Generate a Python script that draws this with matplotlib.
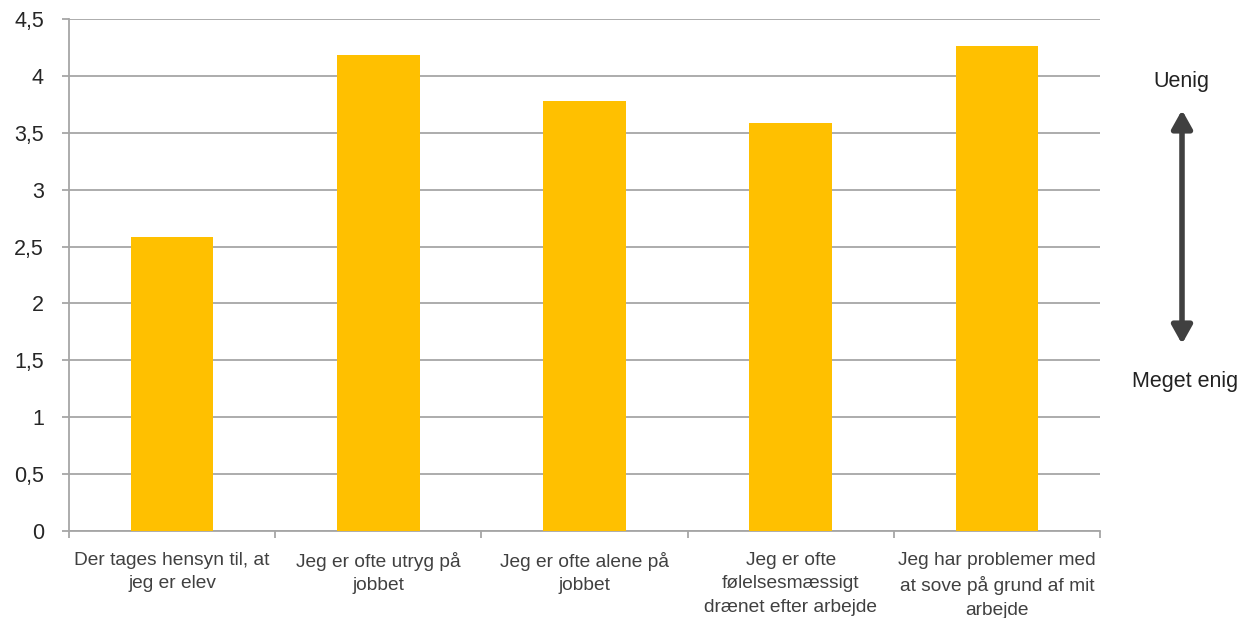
import matplotlib
matplotlib.use("Agg")
import matplotlib.pyplot as plt
from matplotlib.ticker import FixedLocator
from matplotlib.patches import FancyArrowPatch

categories = [
    "Der tages hensyn til, at\njeg er elev",
    "Jeg er ofte utryg på\njobbet",
    "Jeg er ofte alene på\njobbet",
    "Jeg er ofte\nfølelsesmæssigt\ndrænet efter arbejde",
    "Jeg har problemer med\nat sove på grund af mit\narbejde",
]
values = [2.58, 4.18, 3.78, 3.59, 4.26]
yticks = [0, 0.5, 1, 1.5, 2, 2.5, 3, 3.5, 4, 4.5]
ytick_labels = ["0", "0,5", "1", "1,5", "2", "2,5", "3", "3,5", "4", "4,5"]

plt.rcParams['font.family'] = ['Liberation Sans', 'DejaVu Sans']

W, H = 1238, 618
fig = plt.figure(figsize=(W / 100, H / 100), dpi=100)
ax = fig.add_axes([69 / W, 87 / H, (1100 - 69) / W, (531 - 19) / H])

x = list(range(len(categories)))
ax.bar(x, values, width=0.40, color="#FFC000", zorder=3)

grid_col = "#A6A6A6"
ax.set_xlim(-0.5, len(categories) - 0.5)
ax.set_ylim(0, 4.5)
ax.set_yticks(yticks)
ax.set_yticklabels(ytick_labels, fontsize=15.5, color="#262626")
ax.yaxis.grid(True, color=grid_col, linewidth=1.3, zorder=0)
ax.tick_params(axis="y", length=5, color=grid_col, width=1.3, pad=13)

ax.set_xticks(x)
ax.set_xticklabels(categories, fontsize=13.8, color="#404040", linespacing=1.5)
ax.xaxis.set_minor_locator(FixedLocator([i - 0.5 for i in range(len(categories) + 1)]))
ax.tick_params(axis="x", which="major", length=0, pad=15)
ax.tick_params(axis="x", which="minor", length=5, color=grid_col, width=1.3)

for s in ["top", "right"]:
    ax.spines[s].set_visible(False)
for s in ["left", "bottom"]:
    ax.spines[s].set_color(grid_col)
    ax.spines[s].set_linewidth(1.3)

# Scale arrow
ax_x = 1182 / W
fig.add_artist(FancyArrowPatch(
    (ax_x, 1 - 344 / H), (ax_x, 1 - 110 / H), transform=fig.transFigure,
    arrowstyle="<|-|>,head_length=0.68,head_width=0.38", mutation_scale=16,
    shrinkA=0, shrinkB=0, color="#404040", linewidth=4))
fig.text(1181 / W, 1 - 81 / H, "Uenig", ha="center", va="center", fontsize=15.5, color="#222222")
fig.text(1185 / W, 1 - 381 / H, "Meget enig", ha="center", va="center", fontsize=15.5, color="#222222")

fig.savefig("out.png", dpi=100)
